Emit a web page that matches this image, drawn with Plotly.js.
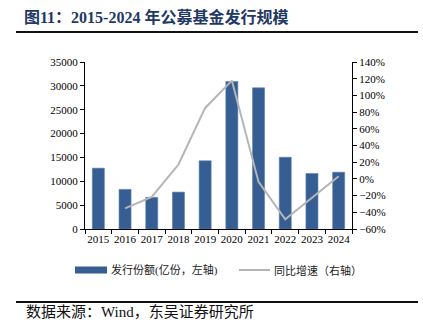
<!DOCTYPE html>
<html>
<head>
<meta charset="utf-8">
<script src="https://cdn.plot.ly/plotly-3.0.1.min.js"></script>
<style>
html,body{margin:0;padding:0;background:#fff;}
#chart{width:423px;height:330px;}
</style>
</head>
<body>
<div id="chart"></div>
<script>
const years = ['2015','2016','2017','2018','2019','2020','2021','2022','2023','2024'];
const issuance = [12750, 8300, 6620, 7730, 14280, 30900, 29580, 15030, 11630, 11900];
const yoy = [null, -0.353, -0.215, 0.172, 0.85, 1.177, -0.036, -0.484, -0.225, 0.032];
const barName = '发行份额(亿份，左轴)';
const lineName = '同比增速（右轴）';
const titleText = '图11：2015-2024 年公募基金发行规模';
const sourceText = '数据来源：Wind，东吴证券研究所';

const serif = '"Liberation Serif", "Noto Sans CJK SC", serif';
const W = 423, H = 330;
const L = 85, R = 352, T = 62, B = 229;
const px = x => (x - L) / (R - L);
const py = y => (B - y) / (B - T);

const traces = [
  {type:'bar', x: years, y: issuance, name: barName, marker:{color:'#365E92', line:{color:'#5b7fae', width:0.6}}, yaxis:'y', showlegend:false, hoverinfo:'skip'},
  {type:'scatter', mode:'lines', x: years, y: yoy, name: lineName, line:{color:'#B5B5B5', width:2}, yaxis:'y2', showlegend:false, connectgaps:false, hoverinfo:'skip'}
];

const layout = {
  width: W, height: H,
  margin: {l: L, r: W - R, t: T, b: H - B, pad: 0},
  paper_bgcolor: '#fff', plot_bgcolor: '#fff',
  font: {family: serif, size: 11, color: '#000'},
  bargap: 0.55,
  xaxis: {type:'category', tickangle:0, showline:true, linecolor:'#000', linewidth:1, ticks:'outside', tickson:'boundaries', ticklen:4, tickcolor:'#000', showgrid:false, zeroline:false, tickfont:{family:serif, size:11, color:'#000'}, range:[-0.5, 9.5]},
  yaxis: {range:[0,35000], dtick:5000, tickformat:'d', showline:true, linecolor:'#000', linewidth:1, ticks:'outside', ticklen:4, tickcolor:'#000', showgrid:false, zeroline:false, tickfont:{family:serif, size:11, color:'#000'}},
  yaxis2: {overlaying:'y', side:'right', range:[-0.6,1.4], dtick:0.2, tickformat:'.0%', showline:true, linecolor:'#000', linewidth:1, ticks:'outside', ticklen:4, tickcolor:'#000', showgrid:false, zeroline:false, tickfont:{family:serif, size:11, color:'#000'}},
  title: {text: '<b>' + titleText + '</b>', xref:'container', yref:'container', x: 24/W, xanchor:'left', y: 1 - 17/H, yanchor:'middle', font:{family: serif, size:16, color:'#1F3864'}},
  shapes: [
    {type:'line', xref:'paper', yref:'paper', x0: px(16), x1: px(418), y0: py(32), y1: py(32), line:{color:'#111', width:2}},
    {type:'line', xref:'paper', yref:'paper', x0: px(16), x1: px(418), y0: py(302), y1: py(302), line:{color:'#111', width:2}},
    {type:'rect', xref:'paper', yref:'paper', x0: px(75), x1: px(107), y0: py(273.5), y1: py(266.5), fillcolor:'#365E92', line:{width:0}},
    {type:'line', xref:'paper', yref:'paper', x0: px(239), x1: px(270), y0: py(270), y1: py(270), line:{color:'#B5B5B5', width:2}}
  ],
  annotations: [
    {text: barName, xref:'paper', yref:'paper', x: px(109), y: py(270), xanchor:'left', yanchor:'middle', showarrow:false, font:{family: serif, size:11, color:'#222'}},
    {text: lineName, xref:'paper', yref:'paper', x: px(272), y: py(270), xanchor:'left', yanchor:'middle', showarrow:false, font:{family: serif, size:11, color:'#222'}},
    {text: sourceText, xref:'paper', yref:'paper', x: px(24), y: py(312), xanchor:'left', yanchor:'middle', showarrow:false, font:{family: serif, size:15, color:'#111'}}
  ]
};

Plotly.newPlot('chart', traces, layout, {staticPlot:true, displayModeBar:false});
</script>
</body>
</html>
